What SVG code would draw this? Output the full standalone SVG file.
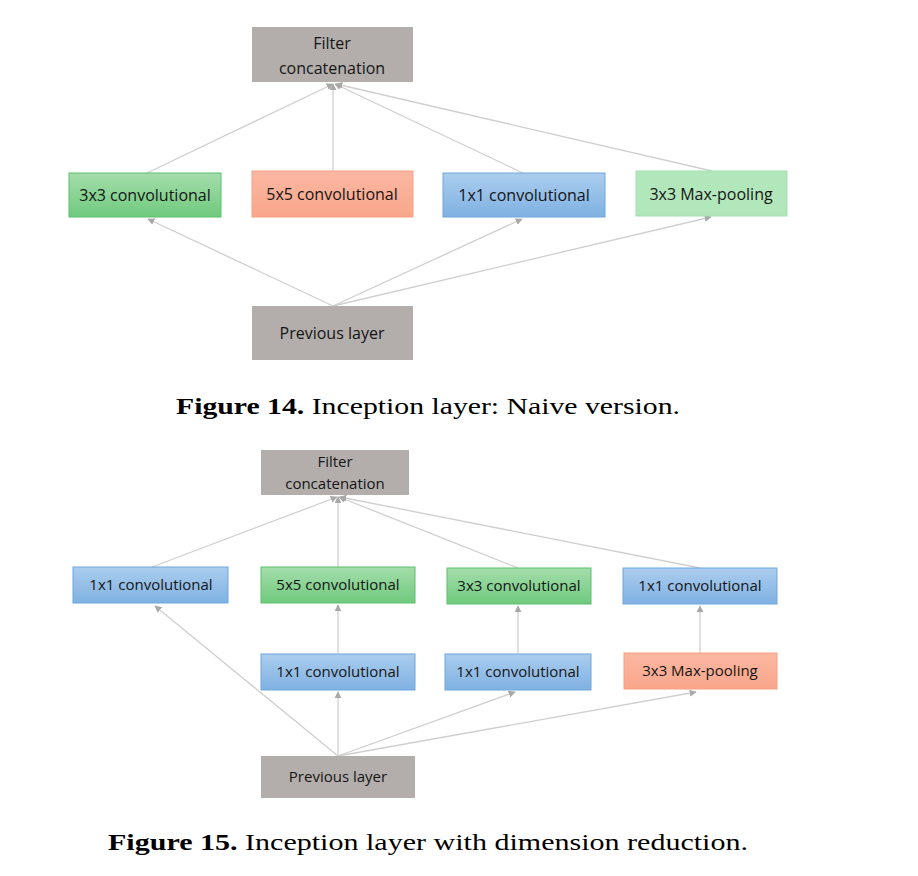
<svg xmlns="http://www.w3.org/2000/svg" width="918" height="876" viewBox="0 0 918 876">
<defs>
<linearGradient id="gBlue" x1="0" y1="0" x2="0" y2="1"><stop offset="0" stop-color="#abcdee"/><stop offset="1" stop-color="#7fb1e2"/></linearGradient>
<linearGradient id="gGreen" x1="0" y1="0" x2="0" y2="1"><stop offset="0" stop-color="#a4ddab"/><stop offset="1" stop-color="#6fca7e"/></linearGradient>
<linearGradient id="gSalmon" x1="0" y1="0" x2="0" y2="1"><stop offset="0" stop-color="#fbb7a2"/><stop offset="1" stop-color="#f9a68b"/></linearGradient>
<marker id="arr" viewBox="0 0 10 10" refX="9" refY="5" markerWidth="7" markerHeight="7" orient="auto" markerUnits="userSpaceOnUse"><path d="M0,0 L10,5 L0,10 z" fill="#a8a8a8"/></marker>
<style>
.gray{fill:#b3aeac}
.blue{fill:url(#gBlue);stroke:#6fa6dc;stroke-width:1}
.green{fill:url(#gGreen);stroke:#5cc06c;stroke-width:1}
.lgreen{fill:#b2e6bb;stroke:#a6e0b0;stroke-width:1}
.salmon{fill:url(#gSalmon);stroke:#f6a184;stroke-width:1}
.lbl{font-family:"Open Sans","Liberation Sans",sans-serif;font-size:16px;fill:#151515;text-anchor:middle}
.lbl2{font-family:"Open Sans","Liberation Sans",sans-serif;font-size:15px;fill:#151515;text-anchor:middle}
.cap{font-family:"Liberation Serif","DejaVu Serif",serif;font-size:24px;fill:#000}
#conn14 line,#conn15 line{stroke:#cfcfcf;stroke-width:1.3;fill:none;marker-end:url(#arr)}
</style>
</defs>
<rect width="918" height="876" fill="#fff"/>

<!-- Figure 14 -->
<g id="conn14">
<line x1="147" y1="173" x2="333" y2="84"/>
<line x1="333" y1="171" x2="333" y2="84"/>
<line x1="523" y1="173" x2="335" y2="84"/>
<line x1="712" y1="171" x2="336" y2="84"/>
<line x1="333" y1="306" x2="148" y2="219"/>
<line x1="333" y1="306" x2="522" y2="219"/>
<line x1="333" y1="306" x2="711" y2="217"/>
</g>
<g id="f14-concat"><rect class="gray" x="252" y="27" width="161" height="55"/><text class="lbl" x="332" y="49">Filter</text><text class="lbl" x="332" y="74">concatenation</text></g>
<g id="f14-conv3"><rect class="green" x="69" y="173" width="152" height="44"/><text class="lbl" x="145" y="201">3x3 convolutional</text></g>
<g id="f14-conv5"><rect class="salmon" x="252" y="171" width="161" height="46"/><text class="lbl" x="332" y="200">5x5 convolutional</text></g>
<g id="f14-conv1"><rect class="blue" x="443" y="173" width="162" height="44"/><text class="lbl" x="524" y="201">1x1 convolutional</text></g>
<g id="f14-pool"><rect class="lgreen" x="636" y="171" width="151" height="45"/><text class="lbl" x="711" y="200">3x3 Max-pooling</text></g>
<g id="f14-prev"><rect class="gray" x="252" y="306" width="161" height="54"/><text class="lbl" x="332" y="339">Previous layer</text></g>
<text class="cap" x="176" y="414" textLength="504" lengthAdjust="spacingAndGlyphs"><tspan font-weight="bold">Figure 14.</tspan> Inception layer: Naive version.</text>

<!-- Figure 15 -->
<g id="conn15">
<line x1="152" y1="567" x2="337" y2="497"/>
<line x1="338" y1="567" x2="338" y2="497"/>
<line x1="518" y1="568" x2="339" y2="497"/>
<line x1="700" y1="568" x2="340" y2="497"/>
<line x1="338" y1="654" x2="338" y2="605"/>
<line x1="518" y1="654" x2="518" y2="606"/>
<line x1="700" y1="654" x2="700" y2="606"/>
<line x1="338" y1="756" x2="155" y2="606"/>
<line x1="338" y1="756" x2="338" y2="692"/>
<line x1="338" y1="756" x2="515" y2="692"/>
<line x1="338" y1="756" x2="696" y2="692"/>
</g>
<g id="f15-concat"><rect class="gray" x="261" y="450" width="148" height="45"/><text class="lbl2" x="335" y="467">Filter</text><text class="lbl2" x="335" y="489">concatenation</text></g>
<g id="f15-a1"><rect class="blue" x="73" y="567" width="155" height="36"/><text class="lbl2" x="151" y="590">1x1 convolutional</text></g>
<g id="f15-b1"><rect class="green" x="261" y="567" width="154" height="36"/><text class="lbl2" x="338" y="590">5x5 convolutional</text></g>
<g id="f15-c1"><rect class="green" x="447" y="568" width="144" height="36"/><text class="lbl2" x="519" y="591">3x3 convolutional</text></g>
<g id="f15-d1"><rect class="blue" x="623" y="568" width="154" height="36"/><text class="lbl2" x="700" y="591">1x1 convolutional</text></g>
<g id="f15-b2"><rect class="blue" x="261" y="654" width="154" height="36"/><text class="lbl2" x="338" y="677">1x1 convolutional</text></g>
<g id="f15-c2"><rect class="blue" x="445" y="654" width="146" height="36"/><text class="lbl2" x="518" y="677">1x1 convolutional</text></g>
<g id="f15-d2"><rect class="salmon" x="624" y="653" width="153" height="36"/><text class="lbl2" x="700" y="676">3x3 Max-pooling</text></g>
<g id="f15-prev"><rect class="gray" x="261" y="756" width="154" height="42"/><text class="lbl2" x="338" y="782">Previous layer</text></g>
<text class="cap" x="108" y="850" textLength="640" lengthAdjust="spacingAndGlyphs"><tspan font-weight="bold">Figure 15.</tspan> Inception layer with dimension reduction.</text>
</svg>
